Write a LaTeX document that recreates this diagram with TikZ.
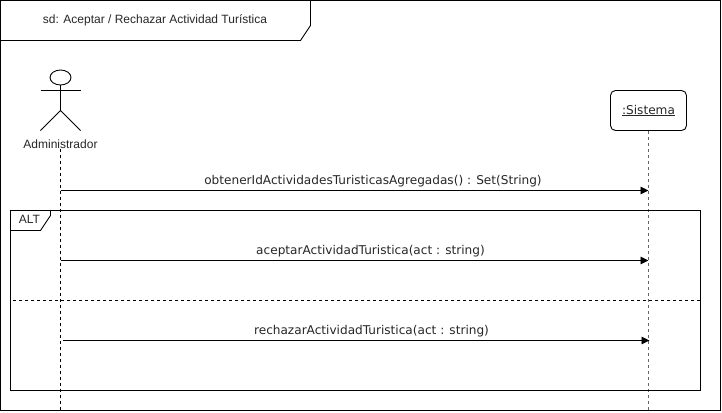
\documentclass[tikz,border=0pt]{standalone}
\usepackage{fontspec}
\setmainfont{Liberation Sans}
\newfontfamily\msgfont{DejaVu Sans}
\usetikzlibrary{arrows.meta}
\usetikzlibrary{positioning}
\usetikzlibrary{shapes.geometric}
\tikzset{msg/.style = {-{Triangle[length=8pt,width=7.5pt]}, line width=0.9pt},
         msglabel/.style = {font=\msgfont\fontsize{12.1}{14}\selectfont, inner sep=0pt, text=black!85},
         lifeline/.style = {dashed, dash pattern=on 3pt off 3pt, line width=0.9pt},
         frameline/.style = {line width=0.9pt},
         plainlabel/.style = {font=\fontsize{12}{14}\selectfont, inner sep=0pt, text=black!85}}

\begin{document}
\begin{tikzpicture}[x=1pt, y=-1pt]
    \useasboundingbox (0, 0) rectangle (722, 412);
    % outer frame and its title
    \draw [frameline] (0.5, 0.5) rectangle (720.5, 410.5);
    \draw [frameline] (0.5, 40.5) -- (300.5, 40.5) -- (310.5, 25.5) -- (310.5, 0.5);
    \node [plainlabel] (title) at (155, 20) {sd: Aceptar / Rechazar Actividad Turística};

    % actor
    \node [draw, ellipse, frameline, minimum width=21pt, minimum height=15pt, inner sep=0pt] (head) at (60.5, 77.5) {};
    \coordinate (hip) at (60.5, 110.5);
    \coordinate (armL) at (40.5, 90.5);
    \coordinate (armR) at (80.5, 90.5);
    \coordinate (footL) at (40.5, 130.5);
    \coordinate (footR) at (80.5, 130.5);
    \draw [frameline] (head.south) -- (hip);
    \draw [frameline] (armL) -- (armR);
    \draw [frameline] (footL) -- (hip) -- (footR);
    \node [plainlabel] (admin) at (60.5, 144) {Administrador};

    % object
    \node [draw, frameline, rounded corners=5pt, minimum width=76pt, minimum height=40pt, inner sep=0pt,
           font=\msgfont\fontsize{12.1}{14}\selectfont, text=black!85] (sistema) at (648.5, 110.5) {\underline{:Sistema}};

    % lifelines
    \coordinate (adminEnd) at (60.5, 410);
    \coordinate (sistemaEnd) at (648.5, 410);
    \draw [lifeline] (admin.south) -- (adminEnd);
    \draw [lifeline, black!60] (sistema.south) -- (sistemaEnd);

    % messages
    \coordinate (a1) at (60.5, 190.5);
    \coordinate (s1) at (648.5, 190.5);
    \coordinate (a2) at (60.5, 260.5);
    \coordinate (s2) at (648.5, 260.5);
    \coordinate (a3) at (62.5, 340.5);
    \coordinate (s3) at (649.5, 340.5);
    \draw [msg] (a1) -- (s1);
    \draw [msg] (a2) -- (s2);
    \draw [msg] (a3) -- (s3);
    \node [msglabel] (m1) at (373, 181) {obtenerIdActividadesTuristicasAgregadas() : Set(String)};
    \node [msglabel] (m2) at (370.5, 251) {aceptarActividadTuristica(act : string)};
    \node [msglabel] (m3) at (371.5, 331) {rechazarActividadTuristica(act : string)};

    % alt fragment
    \draw [frameline] (10.5, 210.5) rectangle (700.5, 390.5);
    \draw [frameline] (10.5, 230.5) -- (40.5, 230.5) -- (50.5, 215.5) -- (50.5, 210.5);
    \node [plainlabel] (alt) at (29.5, 219) {ALT};
    \coordinate (sepL) at (13, 300.5);
    \coordinate (sepR) at (700, 300.5);
    \draw [lifeline] (sepL) -- (sepR);
\end{tikzpicture}
\end{document}
